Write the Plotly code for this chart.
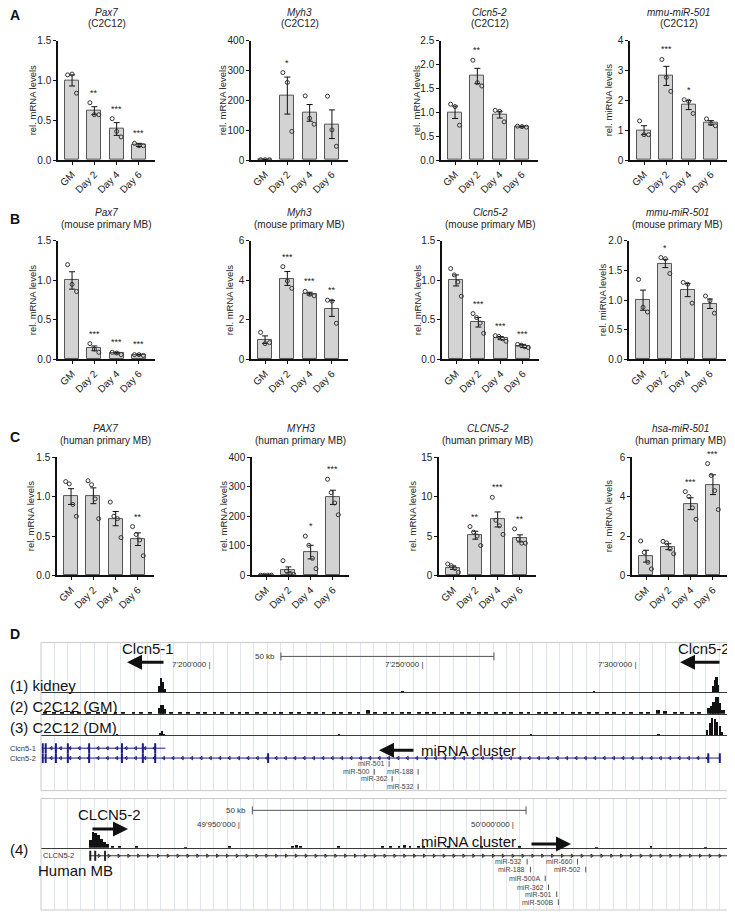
import plotly.graph_objects as go

# the page body adds an 8px margin, so the paper is drawn 8px smaller and shifted
OFF = 8
W, H = 735 - OFF, 918 - OFF
FONT = "Liberation Sans, Arial, sans-serif"

days = ["GM", "Day 2", "Day 4", "Day 6"]

# ---------------- A: C2C12
a1_mean = [1.00, 0.62, 0.39, 0.19]
a1_sem = [0.07, 0.05, 0.08, 0.02]
a1_pts = [[1.07, 1.08, 0.84], [0.72, 0.57, 0.57], [0.52, 0.36, 0.29], [0.21, 0.18, 0.18]]
a1_sig = ["", "**", "***", "***"]

a2_mean = [1, 216, 158, 120]
a2_sem = [0.3, 62, 28, 48]
a2_pts = [[1, 1, 1], [293, 260, 96], [215, 140, 120], [214, 101, 46]]
a2_sig = ["", "*", "", ""]

a3_mean = [1.00, 1.76, 0.95, 0.70]
a3_sem = [0.13, 0.16, 0.07, 0.01]
a3_pts = [[1.17, 1.12, 0.73], [2.09, 1.62, 1.55], [1.04, 1.02, 0.80], [0.71, 0.70, 0.69]]
a3_sig = ["", "**", "", ""]

a4_mean = [1.00, 2.82, 1.84, 1.25]
a4_sem = [0.15, 0.32, 0.15, 0.07]
a4_pts = [[1.31, 0.85, 0.85], [3.37, 2.77, 2.30], [2.02, 1.97, 1.56], [1.38, 1.22, 1.15]]
a4_sig = ["", "***", "*", ""]

# ---------------- B: mouse primary MB
b1_mean = [1.00, 0.14, 0.08, 0.06]
b1_sem = [0.11, 0.03, 0.01, 0.005]
b1_pts = [[1.20, 0.95, 0.86], [0.20, 0.13, 0.09], [0.09, 0.08, 0.06], [0.06, 0.06, 0.05]]
b1_sig = ["", "***", "***", "***"]

b2_mean = [1.00, 4.10, 3.33, 2.58]
b2_sem = [0.19, 0.35, 0.07, 0.40]
b2_pts = [[1.37, 0.80, 0.85], [4.70, 3.97, 3.60], [3.45, 3.30, 3.22], [3.00, 2.95, 1.83]]
b2_sig = ["", "***", "***", "**"]

b3_mean = [1.00, 0.47, 0.27, 0.17]
b3_sem = [0.07, 0.06, 0.02, 0.02]
b3_pts = [[1.15, 1.07, 0.98, 0.80], [0.58, 0.53, 0.46, 0.33], [0.30, 0.29, 0.26, 0.23], [0.19, 0.18, 0.16, 0.15]]
b3_sig = ["", "***", "***", "***"]

b4_mean = [1.00, 1.62, 1.17, 0.94]
b4_sem = [0.17, 0.07, 0.11, 0.08]
b4_pts = [[1.35, 0.88, 0.80], [1.72, 1.70, 1.45], [1.30, 1.27, 0.95], [1.07, 0.99, 0.78]]
b4_sig = ["", "*", "", ""]

# ---------------- C: human primary MB
c1_mean = [1.00, 1.01, 0.72, 0.46]
c1_sem = [0.10, 0.10, 0.09, 0.08]
c1_pts = [[1.19, 1.16, 0.90, 0.75], [1.20, 1.15, 0.97, 0.72], [0.93, 0.75, 0.72, 0.48], [0.62, 0.52, 0.45, 0.25]]
c1_sig = ["", "", "", "**"]

c2_mean = [1, 19, 79, 264]
c2_sem = [0.2, 10, 23, 24]
c2_pts = [[1, 1, 1, 1], [50, 15, 7, 4], [133, 102, 58, 23], [325, 280, 245, 205]]
c2_sig = ["", "", "*", "***"]

c3_mean = [1.0, 5.1, 7.1, 4.7]
c3_sem = [0.22, 0.50, 0.95, 0.45]
c3_pts = [[1.46, 1.25, 0.90, 0.40], [6.2, 5.5, 5.0, 3.8], [9.9, 7.0, 6.3, 5.2], [5.9, 4.6, 4.1, 4.1]]
c3_sig = ["", "**", "***", "**"]

c4_mean = [0.98, 1.46, 3.64, 4.60]
c4_sem = [0.30, 0.15, 0.30, 0.50]
c4_pts = [[1.75, 1.17, 0.67, 0.33], [1.73, 1.65, 1.35, 1.10], [4.25, 4.00, 3.43, 2.85], [5.67, 5.07, 4.30, 3.34]]
c4_sig = ["", "", "***", "***"]

# ---------------- D: genome browser (mouse, positions in kb)
m_range = [7160.1, 7322.5]
m_pos_ticks = [7200, 7250, 7300]
m_pos_text = ["7'200'000", "7'250'000", "7'300'000"]
m_scale = [7216.4, 7266.4]

kidney_kb = [7187.9, 7188.3, 7188.7, 7189.1, 7245.0, 7290.0, 7317.9, 7318.3, 7318.7, 7319.1]
kidney_h = [0.35, 0.75, 0.55, 0.15, 0.04, 0.04, 0.3, 0.65, 0.85, 0.4]

gm_kb = [7161.0, 7163.2, 7165.1, 7167.4, 7169.0, 7171.3, 7173.5, 7175.2, 7177.6, 7179.4,
         7181.8, 7183.5, 7185.7, 7187.9, 7188.4, 7188.9, 7190.6, 7192.8, 7194.5, 7196.9,
         7198.6, 7200.8, 7202.5, 7204.9, 7206.7, 7208.4, 7210.8, 7212.6, 7214.9, 7216.5,
         7218.8, 7220.6, 7222.9, 7224.7, 7226.4, 7228.8, 7230.5, 7232.7, 7234.6, 7236.8,
         7238.5, 7240.9, 7242.6, 7244.8, 7246.5, 7248.9, 7250.7, 7252.4, 7254.8, 7256.5,
         7258.9, 7260.6, 7262.8, 7264.5, 7266.9, 7268.7, 7270.4, 7272.8, 7274.5, 7276.9,
         7278.6, 7280.8, 7282.5, 7284.9, 7286.6, 7288.8, 7290.5, 7292.9, 7294.6, 7296.8,
         7298.5, 7300.9, 7302.6, 7304.8, 7306.5, 7308.9, 7310.6, 7312.8, 7314.5, 7316.8,
         7317.5, 7318.1, 7318.7, 7319.3, 7320.2]
gm_h = [0.06, 0.1, 0.05, 0.08, 0.12, 0.06, 0.09, 0.05, 0.1, 0.07,
        0.11, 0.06, 0.08, 0.3, 0.5, 0.25, 0.06, 0.1, 0.05, 0.08,
        0.07, 0.12, 0.06, 0.09, 0.05, 0.1, 0.07, 0.08, 0.06, 0.11,
        0.05, 0.09, 0.06, 0.1, 0.07, 0.08, 0.05, 0.12, 0.07, 0.2,
        0.06, 0.09, 0.07, 0.1, 0.06, 0.08, 0.05, 0.11, 0.07, 0.09,
        0.06, 0.08, 0.1, 0.05, 0.09, 0.07, 0.12, 0.06, 0.08, 0.05,
        0.1, 0.07, 0.09, 0.06, 0.11, 0.07, 0.08, 0.06, 0.1, 0.09,
        0.12, 0.07, 0.1, 0.22, 0.18, 0.1, 0.08, 0.12, 0.09, 0.35,
        0.45, 0.65, 0.95, 0.6, 0.2]

dm_kb = [7163, 7170, 7178, 7188.0, 7188.5, 7189.0, 7200, 7215, 7230, 7245, 7260, 7275,
         7290, 7305, 7316.4, 7317.0, 7317.6, 7318.2, 7318.8, 7319.4, 7320.0]
dm_h = [0.04, 0.04, 0.05, 0.15, 0.28, 0.12, 0.04, 0.04, 0.05, 0.04, 0.04, 0.05,
        0.04, 0.06, 0.35, 0.7, 1.0, 0.95, 0.8, 0.55, 0.2]

clcn5_1_span = [7160.3, 7189.3]
clcn5_1_exons = [7160.5, 7161.2, 7163.6, 7166.4, 7171.4, 7179.1, 7184.0, 7186.9]
clcn5_2_span = [7160.3, 7319.6]
clcn5_2_exons = [7160.5, 7161.2, 7163.6, 7166.4, 7171.4, 7179.1, 7184.0, 7186.9, 7213.4, 7316.7, 7319.4]

m_mir_names = ["miR-501", "miR-500", "miR-188", "miR-362", "miR-532"]
m_mir_kb = [7241.8, 7238.3, 7248.6, 7242.5, 7248.6]

# ---------------- D: human locus (kb)
h_range = [49913.6, 50040.0]
h_pos_ticks = [49950, 50000]
h_pos_text = ["49'950'000", "50'000'000"]
h_scale = [49952.2, 50002.2]

hmb_kb = [49922.6, 49923.1, 49923.6, 49924.1, 49924.6, 49925.2, 49925.8, 49926.6, 49928.0,
          49931, 49940, 49948, 49959.5, 49960.3, 49961.0, 49968, 49976, 49977.5, 49979,
          49980, 49981, 49982.5, 49983.5, 49988, 49994, 50001, 50015, 50025, 50035]
hmb_h = [0.45, 0.9, 0.85, 0.7, 0.5, 0.35, 0.2, 0.12, 0.08,
         0.05, 0.04, 0.05, 0.12, 0.15, 0.1, 0.05, 0.08, 0.12, 0.1,
         0.15, 0.12, 0.1, 0.08, 0.05, 0.08, 0.05, 0.04, 0.05, 0.04]

clcn5_h_span = [49922.4, 50039.6]
clcn5_h_exons = [49922.6, 49923.5, 49925.3]

h_mir_names = ["miR-532", "miR-188", "miR-500A", "miR-362", "miR-501", "miR-500B", "miR-660", "miR-502"]
h_mir_kb = [50002.4, 50003.0, 50005.7, 50006.3, 50007.8, 50008.1, 50011.6, 50013.1]


# positions below are given in pixels of the 735x918 picture
def px(x):
    return (max(x, OFF) - OFF) / W


def py(y):
    return 1 - (y - OFF) / H


def dom_y(top, bottom):
    return [py(bottom), py(top)]


fig = go.Figure()
layout = {}
annotations = []
shapes = []

panels = [
    ("Pax7", "(C2C12)", "rel. mRNA levels", a1_mean, a1_sem, a1_pts, a1_sig, 1.5, 0.5, ".1f"),
    ("Myh3", "(C2C12)", "rel. mRNA levels", a2_mean, a2_sem, a2_pts, a2_sig, 400, 100, "d"),
    ("Clcn5-2", "(C2C12)", "rel. mRNA levels", a3_mean, a3_sem, a3_pts, a3_sig, 2.5, 0.5, ".1f"),
    ("mmu-miR-501", "(C2C12)", "rel. miRNA levels", a4_mean, a4_sem, a4_pts, a4_sig, 4, 1, "d"),
    ("Pax7", "(mouse primary MB)", "rel. mRNA levels", b1_mean, b1_sem, b1_pts, b1_sig, 1.5, 0.5, ".1f"),
    ("Myh3", "(mouse primary MB)", "rel. mRNA levels", b2_mean, b2_sem, b2_pts, b2_sig, 6, 2, "d"),
    ("Clcn5-2", "(mouse primary MB)", "rel. mRNA levels", b3_mean, b3_sem, b3_pts, b3_sig, 1.5, 0.5, ".1f"),
    ("mmu-miR-501", "(mouse primary MB)", "rel. miRNA levels", b4_mean, b4_sem, b4_pts, b4_sig, 2.0, 0.5, ".1f"),
    ("PAX7", "(human primary MB)", "rel. mRNA levels", c1_mean, c1_sem, c1_pts, c1_sig, 1.5, 0.5, ".1f"),
    ("MYH3", "(human primary MB)", "rel. mRNA levels", c2_mean, c2_sem, c2_pts, c2_sig, 400, 100, "d"),
    ("CLCN5-2", "(human primary MB)", "rel. mRNA levels", c3_mean, c3_sem, c3_pts, c3_sig, 15, 5, "d"),
    ("hsa-miR-501", "(human primary MB)", "rel. miRNA levels", c4_mean, c4_sem, c4_pts, c4_sig, 6, 2, "d"),
]

# left edge of each y axis, and the gap between axis and its title
axis_x0 = [58, 251, 441, 630, 58, 251, 442, 629, 57, 252, 439, 632]
ylab_gap = [26, 29, 25, 22, 26, 22, 25, 27, 27, 29, 27, 24]
row_y = [(35, 156), (238, 358), (457, 577)]
axis_w = 97
offsets = {3: [-0.2, 0.0, 0.2], 4: [-0.24, -0.08, 0.08, 0.24]}

for i, (gene, cell, ylab, mean, sem, pts, sig, ymax, dtick, fmt) in enumerate(panels):
    n = i + 1
    r = i // 4
    x0 = axis_x0[i]
    top, bot = row_y[r]
    xa, ya = f"x{n}", f"y{n}"
    fig.add_trace(go.Bar(
        x=[0, 1, 2, 3], y=mean, width=0.63,
        marker=dict(color="#d3d3d3", line=dict(color="#555555", width=1)),
        error_y=dict(type="data", array=sem, color="#111111", thickness=1, width=3),
        xaxis=xa, yaxis=ya, hoverinfo="skip"))
    px_list, py_list = [], []
    for j, grp in enumerate(pts):
        for k, v in enumerate(grp):
            px_list.append(j + offsets[len(grp)][k])
            py_list.append(v)
    fig.add_trace(go.Scatter(
        x=px_list, y=py_list, mode="markers",
        marker=dict(symbol="circle-open", size=4, color="#333333", line=dict(width=1)),
        xaxis=xa, yaxis=ya, hoverinfo="skip"))
    for j, s in enumerate(sig):
        if s:
            topv = max(max(pts[j]), mean[j] + sem[j])
            annotations.append(dict(x=j, y=topv, xref=xa, yref=ya, text=s, showarrow=False,
                                    xanchor="center", yanchor="bottom", yshift=3,
                                    font=dict(size=9, color="#222")))
    layout[f"xaxis{n}"] = dict(
        domain=[px(x0), px(x0 + axis_w)], anchor=ya, range=[-0.63, 3.72],
        tickvals=[0, 1, 2, 3], ticktext=days, tickangle=-45,
        showline=True, linecolor="#111", linewidth=1.5, ticks="outside", ticklen=3,
        tickcolor="#111", showgrid=False, zeroline=False, tickfont=dict(size=10, color="#222"))
    layout[f"yaxis{n}"] = dict(
        domain=dom_y(top, bot), anchor=xa, range=[0, ymax], dtick=dtick, tick0=0,
        tickformat=fmt, showline=True, linecolor="#111", linewidth=1.5, ticks="outside",
        ticklen=3, tickcolor="#111", showgrid=False, zeroline=False,
        tickfont=dict(size=10, color="#222"))
    cx = px(x0 + axis_w / 2)
    annotations.append(dict(x=cx, y=py(top - 29), xref="paper", yref="paper", text=f"<i>{gene}</i>",
                            xanchor="center", yanchor="middle", showarrow=False,
                            font=dict(size=10, color="#222")))
    annotations.append(dict(x=cx, y=py(top - 17), xref="paper", yref="paper", text=cell,
                            xanchor="center", yanchor="middle", showarrow=False,
                            font=dict(size=10, color="#222")))
    annotations.append(dict(x=px(x0 - ylab_gap[i]), y=py((top + bot) / 2), xref="paper", yref="paper",
                            text=ylab, textangle=-90, xanchor="center", yanchor="middle",
                            showarrow=False, font=dict(size=9.5, color="#222")))

for lab, yy in [("A", 9), ("B", 216), ("C", 437), ("D", 636)]:
    annotations.append(dict(x=px(8), y=py(yy), xref="paper", yref="paper", text=f"<b>{lab}</b>",
                            xanchor="left", yanchor="middle", showarrow=False,
                            font=dict(size=14, color="#111")))

# ---------------- panel D axes
BOX_L, BOX_R = 41, 733
xdom = [px(BOX_L), px(BOX_R)]
grid_col = "#dfe4f0"
navy = "#1c1c80"


def bg_axes(n, rng, top, bot, step):
    layout[f"xaxis{n}"] = dict(domain=xdom, anchor=f"y{n}", range=rng, showgrid=True,
                               gridcolor=grid_col, gridwidth=1, dtick=step, tick0=rng[0],
                               showticklabels=False, ticks="", zeroline=False, showline=False)
    layout[f"yaxis{n}"] = dict(domain=dom_y(top, bot), anchor=f"x{n}", range=[0, 1], visible=False)
    fig.add_trace(go.Scatter(x=[rng[0]], y=[-1], mode="markers", xaxis=f"x{n}", yaxis=f"y{n}",
                             marker=dict(opacity=0), hoverinfo="skip"))
    shapes.append(dict(type="rect", xref="paper", yref="paper", x0=px(BOX_L), x1=px(BOX_R),
                       y0=py(bot), y1=py(top), line=dict(color="#c9c9c9", width=1)))


def track_axes(n, base, rng, match, kb, h, bw):
    layout[f"xaxis{n}"] = dict(domain=xdom, anchor=f"y{n}", range=rng, matches=match,
                               showgrid=False, showticklabels=False, ticks="", zeroline=False,
                               showline=True, linecolor="#3a3a3a", linewidth=1)
    layout[f"yaxis{n}"] = dict(domain=dom_y(base - 18, base), anchor=f"x{n}", range=[0, 1], visible=False)
    fig.add_trace(go.Bar(x=kb, y=h, width=bw, marker=dict(color="#111", line=dict(width=0)),
                         xaxis=f"x{n}", yaxis=f"y{n}", hoverinfo="skip"))


def gene_axes(n, rng, match, top, bot):
    layout[f"xaxis{n}"] = dict(domain=xdom, anchor=f"y{n}", range=rng, matches=match, visible=False)
    layout[f"yaxis{n}"] = dict(domain=dom_y(top, bot), anchor=f"x{n}", range=[bot - top, 0], visible=False)


# mouse box
bg_axes(13, m_range, 645, 795, 3.12)
track_axes(14, 695, m_range, "x13", kidney_kb, kidney_h, 0.45)
track_axes(15, 717, m_range, "x13", gm_kb, gm_h, 0.9)
track_axes(16, 739, m_range, "x13", dm_kb, dm_h, 0.5)
gene_axes(17, m_range, "x13", 745, 795)

# gene models (mouse): y in px offsets inside gene axis
for span, exons, yy in [(clcn5_1_span, clcn5_1_exons, 7), (clcn5_2_span, clcn5_2_exons, 17)]:
    fig.add_trace(go.Scatter(x=span, y=[yy, yy], mode="lines", line=dict(color=navy, width=1),
                             xaxis="x17", yaxis="y17", hoverinfo="skip"))
    chev = [span[0] + 2.2 * k for k in range(1, int((span[1] - span[0]) / 2.2))]
    fig.add_trace(go.Scatter(x=chev, y=[yy] * len(chev), mode="markers",
                             marker=dict(symbol="triangle-left-open", size=3, color=navy, line=dict(width=1)),
                             xaxis="x17", yaxis="y17", hoverinfo="skip"))
    fig.add_trace(go.Scatter(x=exons, y=[yy] * len(exons), mode="markers",
                             marker=dict(symbol="line-ns", size=7, color=navy, line=dict(width=2, color=navy)),
                             xaxis="x17", yaxis="y17", hoverinfo="skip"))

m_mir_rows = [23, 31, 31, 38, 46]
fig.add_trace(go.Scatter(x=m_mir_kb, y=m_mir_rows, mode="markers",
                         marker=dict(symbol="line-ns", size=4, color="#555", line=dict(width=1, color="#555")),
                         xaxis="x17", yaxis="y17", hoverinfo="skip"))
for name, kb, yy in zip(m_mir_names, m_mir_kb, m_mir_rows):
    annotations.append(dict(x=kb, y=yy, xref="x17", yref="y17", text=name, xanchor="right",
                            yanchor="middle", xshift=-2, showarrow=False,
                            font=dict(size=7, color="#444")))

# human box
bg_axes(18, h_range, 803, 916, 2.43)
track_axes(19, 853, h_range, "x18", hmb_kb, hmb_h, 0.5)
gene_axes(20, h_range, "x18", 855, 915)

fig.add_trace(go.Scatter(x=clcn5_h_span, y=[6, 6], mode="lines", line=dict(color="#333", width=1),
                         xaxis="x20", yaxis="y20", hoverinfo="skip"))
hchev = [clcn5_h_span[0] + 1.8 * k for k in range(1, int((clcn5_h_span[1] - clcn5_h_span[0]) / 1.8))]
fig.add_trace(go.Scatter(x=hchev, y=[6] * len(hchev), mode="markers",
                         marker=dict(symbol="triangle-right-open", size=3, color="#333", line=dict(width=1)),
                         xaxis="x20", yaxis="y20", hoverinfo="skip"))
fig.add_trace(go.Scatter(x=clcn5_h_exons, y=[6] * len(clcn5_h_exons), mode="markers",
                         marker=dict(symbol="line-ns", size=7, color="#222", line=dict(width=2, color="#222")),
                         xaxis="x20", yaxis="y20", hoverinfo="skip"))
fig.add_trace(go.Scatter(x=[clcn5_h_span[1]], y=[6], mode="markers",
                         marker=dict(symbol="triangle-right-open", size=7, color="#333", line=dict(width=1)),
                         xaxis="x20", yaxis="y20", hoverinfo="skip"))

h_mir_rows = [12, 20, 29, 38, 45, 53, 12, 20]
fig.add_trace(go.Scatter(x=h_mir_kb, y=h_mir_rows, mode="markers",
                         marker=dict(symbol="line-ns", size=4, color="#555", line=dict(width=1, color="#555")),
                         xaxis="x20", yaxis="y20", hoverinfo="skip"))
for name, kb, yy in zip(h_mir_names, h_mir_kb, h_mir_rows):
    annotations.append(dict(x=kb, y=yy, xref="x20", yref="y20", text=name, xanchor="right",
                            yanchor="middle", xshift=-3, showarrow=False,
                            font=dict(size=7, color="#444")))

# scale bars and position labels
for xa, sc, yb in [("x13", m_scale, 659), ("x18", h_scale, 815)]:
    shapes.append(dict(type="line", xref=xa, yref="paper", x0=sc[0], x1=sc[1], y0=py(yb), y1=py(yb),
                       line=dict(color="#555", width=1)))
    for e in sc:
        shapes.append(dict(type="line", xref=xa, yref="paper", x0=e, x1=e, y0=py(yb - 4), y1=py(yb + 4),
                           line=dict(color="#555", width=1)))
    annotations.append(dict(x=sc[0], y=py(yb), xref=xa, yref="paper", text="50 kb", xanchor="right",
                            yanchor="middle", xshift=-4, showarrow=False,
                            font=dict(size=8, color="#333")))
for xa, ticks, texts, yb in [("x13", m_pos_ticks, m_pos_text, 667), ("x18", h_pos_ticks, h_pos_text, 829)]:
    for t, s in zip(ticks, texts):
        annotations.append(dict(x=t, y=py(yb), xref=xa, yref="paper", text=s + " |", xanchor="right",
                                yanchor="middle", xshift=2, showarrow=False,
                                font=dict(size=8, color="#333")))


def label(x, y, text, size=15, anchor="left", color="#111"):
    annotations.append(dict(x=px(x), y=py(y), xref="paper", yref="paper", text=text, xanchor=anchor,
                            yanchor="middle", showarrow=False, font=dict(size=size, color=color)))


def arrow(x_head, x_tail, y):
    annotations.append(dict(x=px(x_head), y=py(y), xref="paper", yref="paper", text="",
                            ax=x_tail - x_head, ay=0, showarrow=True, arrowhead=2, arrowsize=1,
                            arrowwidth=3, arrowcolor="#111"))


label(120, 651, "Clcn5-1")
arrow(127, 165, 665)
label(732, 651, "Clcn5-2", anchor="right")
arrow(680, 721, 665)
label(8, 688, "(1) kidney")
label(8, 710, "(2) C2C12 (GM)")
label(8, 731, "(3) C2C12 (DM)")
label(8, 752, "Clcn5-1", 7.5, color="#333")
label(8, 762, "Clcn5-2", 7.5, color="#333")
label(419, 754, "miRNA cluster")
arrow(379, 415, 754)

label(76, 819, "CLCN5-2")
arrow(128, 91, 834)
label(419, 847, "miRNA cluster")
arrow(571, 530, 849)
label(8, 855, "(4)")
label(41, 861, "CLCN5-2", 7.5, color="#333")
label(36, 876, "Human MB")

layout.update(dict(
    width=W, height=H, margin=dict(l=0, r=0, t=0, b=0),
    paper_bgcolor="white", plot_bgcolor="rgba(0,0,0,0)", showlegend=False,
    font=dict(family=FONT, color="#222"),
    annotations=annotations, shapes=shapes, bargap=0))
fig.update_layout(**layout)

fig.write_html("out.html")
